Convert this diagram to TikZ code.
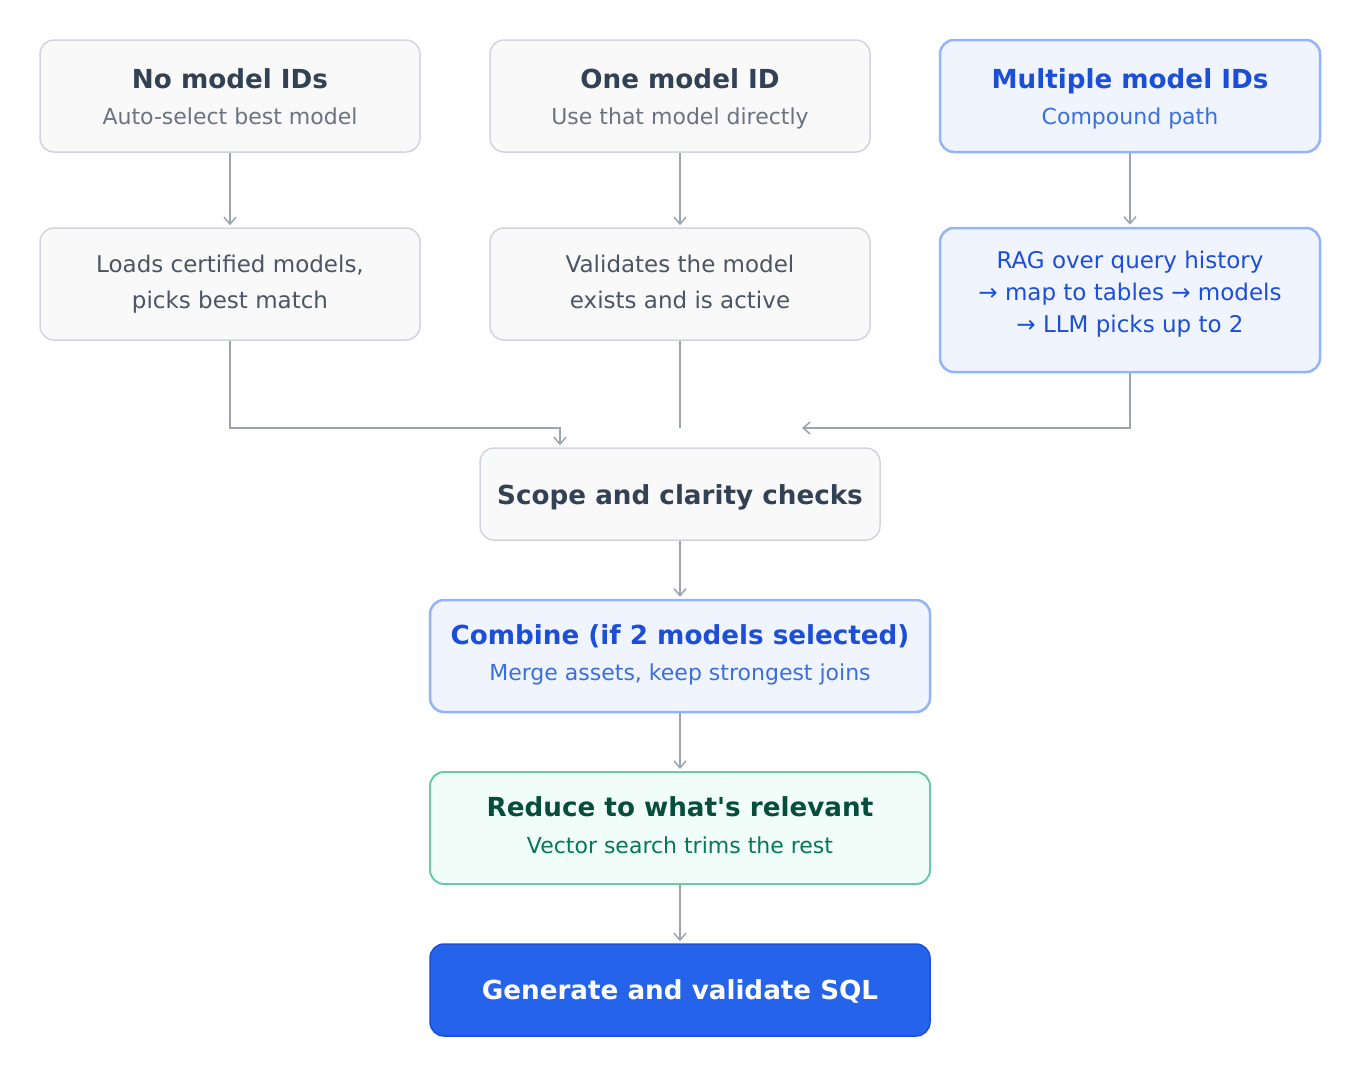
\documentclass[tikz,border=0pt]{standalone}
\usepackage{fontspec}
\setmainfont{DejaVu Sans}[Ligatures=TeXOff]
\usetikzlibrary{arrows.meta,positioning}

\definecolor{boxfill}{HTML}{F9F9FA}
\definecolor{boxline}{HTML}{D1D5DB}
\definecolor{ttlgray}{HTML}{334155}
\definecolor{subgray}{HTML}{6B7280}
\definecolor{bodygray}{HTML}{4B5563}
\definecolor{bluefill}{HTML}{EFF4FF}
\definecolor{blueline}{HTML}{93B4FB}
\definecolor{bluettl}{HTML}{1D4ED8}
\definecolor{bluesub}{HTML}{3B6FE0}
\definecolor{greenfill}{HTML}{F0FDF8}
\definecolor{greenline}{HTML}{6CCBA6}
\definecolor{greenttl}{HTML}{064E3B}
\definecolor{greensub}{HTML}{047857}
\definecolor{sqlfill}{HTML}{2563EB}
\definecolor{sqlline}{HTML}{1D4ED8}
\definecolor{wire}{HTML}{9CA3AF}

\tikzset{
  box/.style={rectangle, rounded corners=14pt, minimum width=380pt, minimum height=112pt,
    inner sep=0pt, draw=boxline, fill=boxfill, line width=1.5pt},
  bluebox/.style={box, draw=blueline, fill=bluefill, line width=2.5pt},
  greenbox/.style={box, draw=greenline, fill=greenfill, line width=2pt},
  sqlbox/.style={box, draw=sqlline, fill=sqlfill, line width=1.5pt},
  ttl/.style={inner sep=0pt, anchor=base, font=\fontsize{26.2}{30}\selectfont\bfseries, text=ttlgray},
  sub/.style={inner sep=0pt, anchor=base, font=\fontsize{22}{26}\selectfont, text=subgray},
  body/.style={inner sep=0pt, align=center, font=\fontsize{23}{36}\selectfont, text=bodygray},
  flow/.style={draw=wire, line width=1.5pt, -{Straight Barb[length=7pt,width=12pt,line width=1.5pt]}, shorten >=2pt},
  wireline/.style={draw=wire, line width=1.5pt}
}

\begin{document}
\begin{tikzpicture}[x=1pt, y=-1pt]
\useasboundingbox (0,0) rectangle (1360,1080);

% three entry cases
\node[box] (nomodel) at (230,96) {};
\node[ttl] (nomodelt) at ([yshift=8pt]nomodel.center) {No model IDs};
\node[sub] (nomodels) at ([yshift=-28pt]nomodel.center) {Auto-select best model};

\node[box] (onemodel) at (680,96) {};
\node[ttl] (onemodelt) at ([yshift=8pt]onemodel.center) {One model ID};
\node[sub] (onemodels) at ([yshift=-28pt]onemodel.center) {Use that model directly};

\node[bluebox] (multi) at (1130,96) {};
\node[ttl, text=bluettl] (multit) at ([yshift=8pt]multi.center) {Multiple model IDs};
\node[sub, text=bluesub] (multis) at ([yshift=-28pt]multi.center) {Compound path};

% what each case does
\node[box] (loads) at (230,284) {};
\node[body] (loadst) at (loads.center) {Loads certified models,\\picks best match};

\node[box] (valid) at (680,284) {};
\node[body] (validt) at ([yshift=2pt]valid.center) {Validates the model\\exists and is active};

\node[bluebox, minimum height=144pt] (rag) at (1130,300) {};
\node[body, text=bluettl, font=\fontsize{23}{32}\selectfont] (ragt) at ([yshift=6pt]rag.center)
  {RAG over query history\\→ map to tables → models\\→ LLM picks up to 2};

% shared pipeline
\node[box, minimum width=400pt, minimum height=92pt] (scope) at (680,494) {};
\node[ttl] (scopet) at ([yshift=-10.5pt]scope.center) {Scope and clarity checks};

\node[bluebox, minimum width=500pt] (combine) at (680,656) {};
\node[ttl, text=bluettl] (combinet) at ([yshift=11.5pt]combine.center) {Combine (if 2 models selected)};
\node[sub, text=bluesub] (combines) at ([yshift=-24pt]combine.center) {Merge assets, keep strongest joins};

\node[greenbox, minimum width=500pt] (reduce) at (680,828) {};
\node[ttl, text=greenttl] (reducet) at ([yshift=11.5pt]reduce.center) {Reduce to what's relevant};
\node[sub, text=greensub] (reduces) at ([yshift=-25pt]reduce.center) {Vector search trims the rest};

\node[sqlbox, minimum width=500pt, minimum height=92pt] (sql) at (680,990) {};
\node[ttl, text=white] (sqlt) at ([yshift=-9.5pt]sql.center) {Generate and validate SQL};

% connectors
\coordinate (joinl) at (560,428);
\coordinate (joinr) at (800,428);
\draw[flow] (nomodel) -- (loads);
\draw[flow] (onemodel) -- (valid);
\draw[flow] (multi) -- (rag);
\draw[flow] (loads.south) |- (joinl) -- (joinl |- scope.north);
\draw[wireline] (valid.south) -- (valid.south |- joinl);
\draw[flow] (rag.south) |- (joinr);
\draw[flow] (scope) -- (combine);
\draw[flow] (combine) -- (reduce);
\draw[flow] (reduce) -- (sql);
\end{tikzpicture}
\end{document}
